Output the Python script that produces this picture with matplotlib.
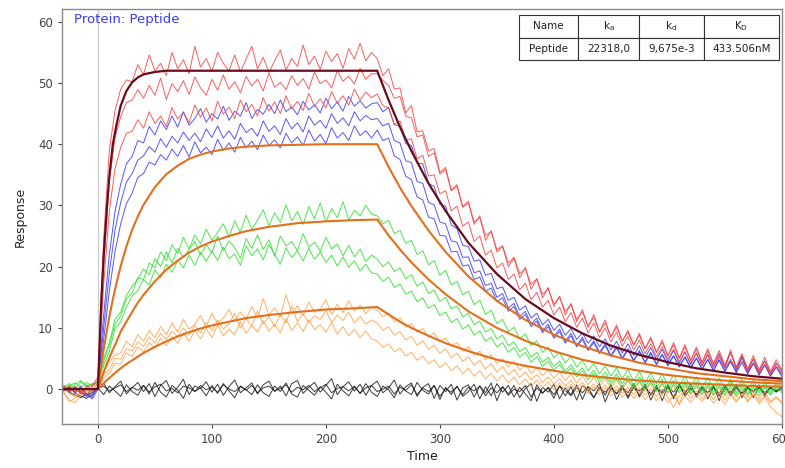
import numpy as np
import matplotlib.pyplot as plt

# sensorgram sampling grid (s)
time_s = list(range(-30, 601, 5))

red_1 = [0.3, -0.4, 0.5, -0.8, 0.2, 0.6,
         2.0, 24.5, 39.0, 45.5, 49.0, 50.5, 50.2, 53.0, 51.4, 54.6, 52.0, 53.2, 51.2, 55.0, 52.3, 53.8, 51.5, 56.0, 52.6, 54.0,
         51.9, 55.0, 53.2, 52.0, 54.6, 51.8, 53.9, 56.0, 52.3, 54.2, 51.7, 53.6, 55.4, 52.1, 54.0, 52.7, 56.2, 53.0, 54.4, 52.2,
         55.2, 53.5, 54.8, 52.4, 55.6, 53.9, 56.5, 53.6, 55.0,
         54.0, 51.2, 52.3, 49.0, 49.2, 45.1, 46.3, 42.0, 42.2, 38.9, 39.3, 35.4, 36.2, 32.5, 33.4, 29.8, 30.7, 26.9, 28.3, 24.3,
         25.9, 22.4, 23.3, 20.0, 21.4, 18.2, 19.9, 16.3, 18.0, 14.9, 16.6, 13.5, 15.2, 12.1, 14.0, 11.0, 13.0, 10.1, 12.2, 9.3,
         11.3, 8.4, 10.5, 7.8, 9.6, 7.2, 9.1, 6.6, 8.5, 6.0, 8.0, 5.4, 7.6, 5.1, 7.3, 4.6, 6.9, 4.4, 6.6, 4.2,
         6.3, 3.9, 6.0, 3.6, 5.8, 3.3, 5.5, 3.1, 5.2, 2.9, 4.8, 3.2]
red_2 = [-0.2, 0.5, -0.6, 0.1, -1.0, 0.4,
         1.5, 20.0, 34.0, 41.0, 44.5, 46.8, 47.2, 48.9, 47.5, 49.6, 48.0, 50.8, 47.3, 49.9, 48.6, 50.4, 48.1, 51.0, 49.2, 48.0,
         50.6, 48.8, 51.3, 49.0, 50.2, 48.4, 51.1, 49.5, 50.6, 48.7, 51.6, 49.3, 50.1, 48.9, 51.2, 49.6, 50.7, 49.0, 51.8, 49.9,
         50.5, 49.2, 52.0, 50.3, 51.1, 49.8, 52.4, 50.6, 51.5,
         51.5, 50.4, 49.6, 47.5, 47.8, 44.6, 44.3, 41.2, 41.5, 38.0, 38.6, 35.1, 35.9, 32.4, 33.1, 29.7, 30.4, 27.3, 28.0, 25.1,
         25.7, 22.8, 23.4, 20.6, 21.5, 18.9, 19.6, 17.1, 18.0, 15.5, 16.4, 13.9, 15.0, 12.7, 13.8, 11.4, 12.6, 10.3, 11.7, 9.4,
         10.8, 8.6, 10.1, 7.9, 9.3, 7.2, 8.8, 6.6, 8.2, 6.0, 7.6, 5.5, 7.2, 5.0, 6.9, 4.8, 6.5, 4.3, 6.2, 4.0,
         5.9, 3.8, 6.4, 3.5, 5.5, 3.2, 5.0, 3.0, 4.6, 2.6, 4.3, 2.8]
red_3 = [0.5, -0.3, 0.2, -0.7, 0.6, -0.2,
         1.0, 17.0, 29.0, 36.0, 39.5, 41.8, 42.1, 44.0, 42.6, 45.3, 43.4, 44.6, 42.9, 46.0, 44.1, 45.2, 43.5, 46.4, 44.4, 45.9,
         43.8, 47.0, 44.9, 46.1, 44.2, 47.2, 45.3, 46.5, 44.6, 47.6, 45.4, 46.9, 45.0, 47.9, 45.8, 47.0, 45.5, 48.3, 46.2, 47.4,
         45.9, 48.6, 46.7, 47.9, 46.4, 49.0, 47.2, 48.5, 47.6,
         48.2, 46.3, 45.9, 43.2, 43.8, 40.6, 40.9, 37.6, 38.2, 34.8, 35.0, 31.9, 32.4, 29.1, 29.9, 26.6, 27.3, 24.1, 25.0, 21.9,
         22.7, 19.8, 20.6, 17.9, 18.8, 16.2, 17.3, 14.6, 15.8, 13.4, 14.5, 12.1, 13.4, 11.0, 12.5, 10.1, 11.6, 9.2, 10.8, 8.4,
         10.0, 7.7, 9.3, 7.0, 8.6, 6.4, 8.0, 5.8, 7.4, 5.3, 6.9, 4.9, 6.5, 4.5, 6.1, 4.2, 5.8, 3.9, 5.5, 3.6,
         5.2, 3.4, 4.9, 3.1, 4.6, 2.9, 4.3, 2.6, 4.0, 2.4, 3.7, 2.5]

blue_1 = [-0.3, 0.4, -0.5, 0.2, -0.9, -1.3,
          0.5, 12.0, 22.0, 29.0, 33.5, 36.8, 38.0, 40.6, 40.2, 42.9, 41.5, 43.8, 42.4, 44.6, 42.8, 45.3, 43.1, 44.2, 45.8, 43.6,
          45.0, 44.1, 46.2, 43.9, 45.4, 44.6, 46.8, 44.2, 45.7, 44.9, 46.5, 45.0, 47.2, 45.3, 46.1, 44.8, 47.0, 45.6, 46.4, 45.1,
          47.5, 45.8, 46.9, 45.4, 47.8, 46.2, 47.1, 45.9, 46.6,
          46.8, 45.3, 46.0, 43.2, 42.9, 40.1, 39.8, 36.9, 36.8, 33.6, 33.1, 30.2, 29.9, 26.8, 26.2, 23.5, 23.3, 20.9, 21.1, 18.6,
          18.9, 16.4, 16.7, 14.5, 15.0, 12.9, 13.6, 11.6, 12.4, 10.5, 11.4, 9.6, 10.6, 8.8, 9.9, 8.1, 9.2, 7.5, 8.7, 6.9,
          8.2, 6.4, 7.8, 5.9, 7.4, 5.5, 7.1, 5.1, 6.8, 4.8, 6.5, 4.5, 6.3, 4.2, 6.1, 4.0, 5.9, 3.8, 5.7, 3.6,
          5.6, 3.5, 6.0, 3.3, 5.2, 3.0, 4.9, 2.8, 4.6, 2.6, 4.2, 2.9]
blue_2 = [0.2, -0.5, 0.3, -0.4, -1.2, -0.6,
          0.3, 10.0, 19.0, 26.0, 30.5, 33.8, 35.2, 37.4, 38.1, 39.6, 38.7, 40.9, 39.5, 41.3, 40.2, 42.0, 40.6, 41.8, 40.4, 42.5,
          41.1, 43.0, 41.0, 42.2, 40.8, 43.4, 41.9, 42.6, 41.3, 43.8, 42.1, 43.0, 41.6, 44.2, 42.5, 43.5, 42.0, 44.6, 43.1, 43.9,
          42.6, 45.0, 43.4, 44.3, 43.0, 45.3, 43.8, 44.7, 44.0,
          44.2, 43.0, 43.4, 40.6, 40.2, 37.3, 37.0, 33.9, 33.6, 30.5, 30.1, 27.3, 27.0, 24.2, 24.0, 21.5, 21.6, 19.0, 19.3, 16.9,
          17.3, 15.0, 15.6, 13.3, 14.0, 11.9, 12.7, 10.6, 11.6, 9.5, 10.6, 8.6, 9.8, 7.8, 9.1, 7.1, 8.5, 6.5, 7.9, 6.0,
          7.4, 5.5, 7.0, 5.1, 6.6, 4.7, 6.3, 4.4, 6.0, 4.1, 5.7, 3.9, 5.5, 3.7, 5.3, 3.5, 5.1, 3.3, 4.9, 3.1,
          4.8, 3.0, 4.6, 2.8, 5.3, 2.6, 4.3, 2.4, 4.0, 2.2, 3.7, 2.4]
blue_3 = [-0.1, 0.3, -0.6, 0.5, -0.8, -1.6,
          0.0, 8.0, 16.0, 22.5, 27.0, 30.3, 32.0, 34.6, 35.2, 37.1, 36.6, 38.3, 37.4, 39.2, 38.0, 39.8, 37.9, 40.4, 38.6, 39.5,
          38.3, 40.8, 39.0, 40.2, 38.7, 41.1, 39.4, 40.5, 39.1, 41.5, 39.8, 40.7, 39.4, 41.8, 40.2, 41.2, 39.8, 42.3, 40.5, 41.6,
          40.1, 42.7, 41.0, 41.9, 40.6, 43.0, 41.4, 42.2, 41.0,
          42.3, 40.6, 41.0, 38.1, 37.5, 34.8, 34.2, 31.4, 30.9, 28.1, 27.8, 25.1, 25.0, 22.4, 22.5, 20.1, 20.3, 17.9, 18.3, 16.0,
          16.5, 14.3, 14.9, 12.7, 13.5, 11.4, 12.2, 10.2, 11.1, 9.2, 10.2, 8.3, 9.4, 7.5, 8.7, 6.9, 8.1, 6.3, 7.6, 5.8,
          7.1, 5.3, 6.7, 4.9, 6.4, 4.6, 6.1, 4.3, 5.8, 4.0, 5.6, 3.8, 5.4, 3.6, 5.2, 3.4, 5.0, 3.2, 4.8, 3.0,
          4.7, 2.9, 4.5, 2.7, 4.3, 2.5, 4.2, 2.3, 3.9, 2.1, 3.6, 2.0]

green_1 = [0.4, 0.9, -0.2, 1.2, 0.6, 0.8,
           1.0, 4.5, 7.2, 10.6, 12.0, 14.8, 15.6, 18.2, 17.9, 20.6, 19.8, 22.4, 21.0, 23.6, 22.1, 24.8, 22.9, 25.2, 23.7, 26.1,
           24.3, 25.6, 27.0, 24.8, 27.5, 25.6, 28.4, 26.1, 27.6, 29.3, 26.7, 28.8, 27.2, 30.1, 27.5, 29.0, 26.9, 29.8, 27.8, 30.4,
           27.3, 29.5, 28.0, 30.6, 27.6, 29.2, 28.3, 30.0, 28.6,
           28.3, 27.0, 27.6, 25.4, 25.9, 23.8, 24.3, 22.0, 22.6, 20.3, 21.0, 18.6, 19.4, 17.0, 17.6, 15.4, 16.0, 13.8, 14.5, 12.2,
           12.9, 10.7, 11.4, 9.4, 10.1, 8.2, 9.0, 7.1, 7.9, 6.0, 6.9, 5.1, 6.0, 4.3, 5.3, 3.6, 4.7, 3.0, 4.2, 2.5,
           3.8, 2.1, 3.5, 1.7, 3.2, 1.3, 2.9, 1.0, 2.7, 0.8, 2.5, 0.6, 2.3, 0.4, 2.1, 0.3, 2.0, 0.2, 1.9, 0.1,
           1.8, 0.0, 1.6, -0.1, 1.5, -0.2, 1.4, -0.3, 1.2, -0.4, 1.0, 0.2]
green_2 = [0.2, 0.6, 1.0, 0.3, 1.1, 0.5,
           1.2, 5.0, 7.6, 11.4, 12.6, 15.3, 16.8, 18.0, 19.6, 18.7, 21.3, 20.0, 22.4, 20.6, 23.0, 21.5, 22.8, 24.1, 21.9, 23.6,
           22.3, 25.0, 22.6, 24.2, 23.1, 21.4, 24.6, 23.0, 25.2, 22.8, 24.4, 21.7, 25.0, 23.4, 24.1, 22.6, 25.4, 23.2, 24.0, 22.5,
           24.8, 22.9, 23.7, 21.8, 23.5, 21.6, 22.9, 20.8, 21.9,
           21.2, 20.0, 20.8, 19.2, 19.8, 18.0, 18.7, 16.8, 17.5, 15.6, 16.2, 14.3, 15.0, 13.1, 13.6, 11.8, 12.4, 10.5, 11.1, 9.3,
           9.9, 8.2, 8.8, 7.1, 7.7, 6.1, 6.8, 5.2, 6.0, 4.4, 5.2, 3.7, 4.6, 3.0, 4.0, 2.5, 3.5, 2.0, 3.1, 1.6,
           2.8, 1.2, 2.5, 0.9, 2.2, 0.6, 2.0, 0.4, 1.8, 0.2, 1.6, 0.0, 1.4, -0.2, 1.3, -0.3, 1.2, -0.4, 1.1, -0.5,
           1.0, -0.5, 1.2, -0.6, 0.9, -0.7, 0.8, -0.6, 0.7, -0.8, 0.6, -0.3]
green_3 = [0.6, 0.1, 0.8, 1.4, 0.4, 0.9,
           0.8, 3.8, 6.2, 9.9, 11.0, 13.4, 15.2, 16.1, 17.9, 17.0, 19.5, 18.2, 20.4, 19.1, 21.0, 19.8, 21.9, 20.2, 22.3, 20.9,
           22.5, 21.0, 23.2, 21.3, 22.1, 20.2, 23.4, 21.8, 22.9, 21.1, 23.6, 22.0, 20.4, 23.1, 21.5, 22.6, 20.9, 23.0, 21.2, 22.4,
           20.7, 21.9, 20.1, 21.6, 19.9, 21.0, 19.3, 20.4, 19.0,
           18.8, 17.6, 18.3, 16.6, 17.2, 15.5, 16.0, 14.3, 14.9, 13.2, 13.8, 12.0, 12.6, 10.9, 11.5, 9.8, 10.5, 8.8, 9.5, 7.8,
           8.5, 6.9, 7.6, 6.0, 6.8, 5.2, 6.0, 4.4, 5.3, 3.7, 4.6, 3.1, 4.0, 2.5, 3.5, 2.0, 3.0, 1.5, 2.6, 1.1,
           2.2, 0.7, 1.9, 0.4, 1.6, 0.1, 1.4, -0.1, 1.2, -0.3, 1.0, -0.5, 0.9, -0.6, 0.8, -0.7, 0.7, -0.8, 0.6, -0.9,
           0.5, -0.9, 0.5, -1.0, 0.4, -1.0, 0.3, -1.1, 0.3, -1.0, 0.2, -0.6]

orange_1 = [-0.5, -1.8, -2.2, -1.0, -0.3, -0.6,
            0.5, 2.8, 4.4, 5.6, 5.9, 7.8, 6.9, 8.9, 7.8, 9.6, 8.4, 10.2, 8.9, 10.8, 9.3, 11.4, 9.8, 10.6, 12.0, 10.1,
            12.4, 10.7, 11.6, 13.0, 11.1, 12.6, 11.4, 13.5, 11.6, 14.8, 12.1, 13.3, 11.8, 15.4, 12.4, 13.6, 12.0, 14.2, 12.6, 13.1,
            14.6, 12.2, 13.9, 12.5, 14.4, 12.8, 13.7, 12.3, 13.4,
            12.9, 11.8, 12.4, 11.0, 11.6, 10.1, 10.7, 9.3, 9.9, 8.5, 9.2, 7.7, 8.4, 7.0, 7.6, 6.2, 6.9, 5.5, 6.2, 4.8,
            5.6, 4.2, 5.0, 3.6, 4.5, 3.1, 4.0, 2.6, 3.5, 2.2, 3.1, 1.8, 2.8, 1.4, 2.5, 1.0, 2.2, 0.7, 1.9, 0.4,
            1.7, 0.2, 1.5, 0.0, 1.3, -0.2, 1.1, -0.4, 0.9, -0.5, 0.8, -0.7, 0.6, -2.6, 0.5, -0.9, 0.4, -1.0, 0.3, -1.1,
            0.2, -1.2, 0.1, -1.3, 0.0, -1.4, -0.2, -1.6, -0.4, -2.0, -1.2, -2.4]
orange_2 = [0.3, -0.8, -1.2, -0.5, 0.1, -0.4,
            0.3, 2.3, 3.2, 5.0, 4.9, 6.6, 6.2, 7.7, 7.0, 8.5, 7.6, 9.1, 8.1, 9.4, 8.6, 10.0, 8.8, 10.4, 9.2, 10.9,
            9.5, 11.3, 9.8, 10.7, 12.4, 10.0, 11.5, 10.3, 12.8, 10.6, 11.9, 10.2, 12.2, 10.8, 13.6, 11.0, 12.3, 10.9, 12.0, 11.4,
            12.8, 10.9, 12.1, 11.2, 12.6, 10.8, 11.9, 10.6, 11.3,
            10.8, 9.6, 10.2, 8.8, 9.4, 8.0, 8.6, 7.2, 7.9, 6.5, 7.2, 5.8, 6.6, 5.1, 5.9, 4.5, 5.3, 3.9, 4.7, 3.3,
            4.2, 2.8, 3.7, 2.3, 3.2, 1.9, 2.8, 1.5, 2.4, 1.1, 2.0, 0.8, 1.7, 0.5, 1.4, 0.2, 1.1, -0.1, 0.9, -0.3,
            0.7, -0.5, 0.5, -0.7, 0.3, -0.9, 0.2, -1.0, 0.1, -1.2, 0.0, -1.3, -3.0, -1.1, -0.2, -1.5, -0.3, -1.6, -0.4, -1.7,
            -0.5, -1.8, -0.6, -1.9, -0.7, -2.1, -0.9, -2.4, -1.3, -2.9, -3.8, -4.5]
orange_3 = [-0.6, -2.0, -1.5, -0.4, -0.9, -0.2,
            0.0, 1.8, 2.6, 4.2, 4.1, 5.9, 5.3, 6.9, 6.1, 7.6, 6.7, 8.3, 7.1, 8.6, 7.5, 9.2, 7.8, 9.6, 8.2, 9.9,
            8.4, 10.5, 8.7, 9.8, 8.9, 11.0, 9.1, 10.4, 9.3, 11.2, 9.5, 10.6, 9.2, 11.5, 9.6, 10.8, 9.4, 11.3, 9.7, 10.5,
            9.3, 10.9, 9.0, 10.2, 8.7, 9.8, 8.4, 9.5, 8.2,
            7.9, 6.8, 7.4, 6.1, 6.7, 5.4, 6.0, 4.7, 5.4, 4.1, 4.8, 3.5, 4.3, 3.0, 3.8, 2.5, 3.4, 2.1, 3.0, 1.7,
            2.6, 1.3, 2.3, 1.0, 2.0, 0.7, 1.7, 0.4, 1.5, 0.2, 1.2, -0.1, 1.0, -0.3, 0.8, -0.5, 0.6, -0.7, 0.4, -0.9,
            0.2, -1.1, 0.0, -1.3, -0.2, -1.5, -0.4, -1.7, -0.6, -1.9, -0.8, -2.2, -1.0, -2.4, -1.1, -2.2, -1.0, -2.0, -0.9, -2.3,
            -1.2, -2.5, -1.0, -2.1, -0.8, -1.9, -0.7, -2.0, -1.1, -2.2, -1.5, -2.0]

black_1 = [0.2, -0.5, -1.0, -1.4, -0.8, -0.3,
           0.0, 1.0, -0.6, 0.4, 1.3, -0.8, 0.2, 1.1, -0.4, 0.9, -1.2, 0.6, 1.4, -0.7, 0.3, 1.6, -0.9, 0.5, 0.1, 1.2,
           -0.5, 0.8, -1.0, 0.4, 1.5, -0.6, 0.2, 1.0, -0.8, 0.7, 1.3, -0.4, 0.5, -1.1, 0.9, 1.4, -0.7, 0.3, 1.1, -0.5,
           0.6, 1.7, -0.9, 0.4, 1.2, -0.3, 0.8, -1.0, 0.6, 1.3, -0.6, 0.2, 1.5, -0.8, 0.4, 1.0, -1.2, 0.3, 0.9, -1.5,
           0.6, -0.4, 0.8, -1.8, 0.2, 0.7, -1.3, 0.5, -0.6, 1.0, -1.9, 0.4, -0.8, 0.6, -1.4, 0.1, 0.9, -2.0, 0.3, -0.5,
           0.8, -1.6, 0.2, -0.9, 0.7, -1.7, 0.4, -0.3, 0.9, -2.1, 0.1, -0.7, 0.6, -1.5, 0.3, -1.0, 0.8, -1.8, 0.2, -0.4,
           0.7, -1.6, 0.5, -0.8, 0.9, -1.3, 0.1, -0.6, 0.6, -1.9, 0.4, -0.9, 0.8, -1.4, 0.2, -0.5, 0.7, -1.2, 0.3, -0.4,
           0.5]
black_2 = [-0.3, 0.4, -0.7, -1.1, -1.5, -0.9,
           0.2, -0.9, 0.5, -0.3, -1.2, 0.7, -0.4, -1.0, 0.6, -0.8, 1.1, -0.5, -1.3, 0.6, -0.2, -1.5, 0.8, -0.4, 0.2, -1.1,
           0.6, -0.7, 0.9, -0.3, -1.4, 0.5, -0.1, -0.9, 0.7, -0.6, -1.2, 0.5, -0.4, 1.0, -0.8, -1.3, 0.6, -0.2, -1.0, 0.4,
           -0.5, -1.6, 0.8, -0.3, -1.1, 0.4, -0.7, 0.9, -0.5, -1.2, 0.5, -0.1, -1.4, 0.7, -0.3, -0.9, 1.1, -0.2, -0.8, 0.6,
           -1.7, 0.3, -0.9, 0.5, -1.2, -0.4, 0.8, -1.6, 0.4, -1.1, 0.9, -0.5, 0.6, -1.3, 0.3, -0.8, -1.9, 0.7, -0.6, 0.2,
           -1.5, 0.5, -1.1, 0.4, -1.8, 0.6, -0.2, -1.4, 0.5, -1.0, 0.7, -1.7, 0.2, -0.6, 0.9, -1.3, 0.3, -0.8, 0.6, -1.9,
           0.4, -0.5, 0.8, -1.2, 0.1, -0.9, 0.5, -1.6, 0.3, -0.7, 0.7, -1.1, 0.2, -0.6, 0.5, -1.4, 0.3, -0.8, 0.4, -0.5,
           0.2]
black_3 = [0.0, -0.2, 0.3, -0.6, -1.0, -0.5,
           0.1, 0.5, -0.3, 0.2, 0.7, -0.4, 0.3, -0.2, 0.6, -0.5, 0.4, 0.8, -0.3, 0.1, -0.6, 0.5, 0.2, -0.4, 0.6, -0.1,
           0.3, -0.5, 0.7, 0.0, -0.4, 0.4, -0.2, 0.6, -0.6, 0.2, 0.5, -0.3, 0.1, 0.7, -0.5, 0.3, -0.1, 0.6, -0.4, 0.2,
           0.8, -0.6, 0.1, 0.4, -0.3, 0.5, -0.7, 0.2, 0.6, -0.4, 0.0, 0.5, -0.8, 0.3, -0.2, 0.7, -0.9, 0.2, -0.4, 0.6,
           -1.2, 0.1, -0.5, 0.4, -0.9, 0.3, -0.3, 0.5, -1.1, 0.2, -0.6, 0.4, -1.0, 0.0, -0.4, 0.6, -1.3, 0.2, -0.7, 0.3,
           -0.9, 0.5, -0.2, -1.1, 0.3, -0.6, 0.4, -1.4, 0.1, -0.5, 0.5, -0.8, 0.2, -1.2, 0.4, -0.3, 0.6, -1.0, 0.1, -0.7,
           0.3, -1.3, 0.5, -0.4, 0.2, -0.9, 0.4, -0.6, 0.3, -1.1, 0.1, -0.5, 0.4, -0.8, 0.2, -0.3, 0.3, -0.6, 0.1, -0.2,
           0.0]

# fitted curves (1:1 model)
fit_t = [-30, 0, 3, 5, 8, 10, 13, 16, 20, 25, 30, 35, 40, 50, 60, 70, 80, 90, 100, 115, 130, 150, 175, 200, 225, 245,
         255, 265, 275, 290, 305, 325, 350, 375, 400, 425, 450, 475, 500, 525, 550, 575, 600]
fit_top = [0, 0, 14.6, 21.6, 30.0, 34.7, 39.9, 42.9, 46.3, 48.7, 50.1, 50.9, 51.4, 51.8, 52.0, 52.0, 52.0, 52.0, 52.0,
           52.0, 52.0, 52.0, 52.0, 52.0, 52.0, 52.0,
           47.2, 42.8, 38.9, 33.6, 29.1, 23.9, 18.8, 14.7, 11.6, 9.1, 7.1, 5.6, 4.4, 3.4, 2.7, 2.1, 1.7]
fit_40 = [0, 0, 4.0, 6.4, 9.7, 11.8, 14.6, 17.1, 20.1, 23.3, 26.0, 28.2, 30.1, 33.0, 35.1, 36.5, 37.6, 38.3, 38.8,
          39.3, 39.6, 39.8, 39.9, 40.0, 40.0, 40.0,
          36.3, 32.9, 29.9, 25.9, 22.4, 18.4, 14.4, 11.3, 8.9, 7.0, 5.5, 4.3, 3.4, 2.6, 2.1, 1.6, 1.3]
fit_28 = [0, 0, 1.6, 2.7, 4.2, 5.1, 6.4, 7.6, 9.4, 11.0, 12.6, 14.1, 15.4, 17.6, 19.5, 21.0, 22.3, 23.3, 24.1,
          25.0, 25.8, 26.5, 27.1, 27.4, 27.6, 27.7,
          25.1, 22.8, 20.7, 17.9, 15.5, 12.7, 10.0, 7.9, 6.2, 4.8, 3.8, 3.0, 2.3, 1.8, 1.4, 1.1, 0.9]
fit_13 = [0, 0, 0.6, 0.9, 1.5, 1.8, 2.3, 2.8, 3.4, 4.1, 4.7, 5.3, 5.9, 6.9, 7.8, 8.6, 9.3, 9.9, 10.4,
          11.0, 11.6, 12.1, 12.6, 13.0, 13.2, 13.4,
          12.2, 11.0, 10.0, 8.7, 7.5, 6.2, 4.8, 3.8, 3.0, 2.3, 1.8, 1.4, 1.1, 0.9, 0.7, 0.5, 0.4]

table_cols = ['Name', '$\\mathregular{k_a}$', '$\\mathregular{k_d}$', '$\\mathregular{K_D}$']
table_row = ['Peptide', '22318,0', '9,675e-3', '433.506nM']

fig = plt.figure(figsize=(7.85, 4.68), dpi=100)
ax = fig.add_axes([0.079, 0.094, 0.917, 0.887])

ax.axvline(0, color='#c8c8c8', lw=0.8, zorder=0)

groups = [
    ([black_1, black_2, black_3], '#1a1a1a'),
    ([orange_1, orange_2, orange_3], '#ffa24a'),
    ([green_1, green_2, green_3], '#2fe02f'),
    ([blue_1, blue_2, blue_3], '#3a3af0'),
    ([red_1, red_2, red_3], '#f24444'),
]
for traces, col in groups:
    for tr in traces:
        assert len(tr) == len(time_s), len(tr)
        ax.plot(time_s, tr, color=col, lw=0.7, alpha=0.85)

for fit in [fit_13, fit_28, fit_40]:
    ax.plot(fit_t, fit, color='#e2701c', lw=1.5)
ax.plot(fit_t, fit_top, color='#6a0c1c', lw=1.6)

ax.set_xlim(-31.5, 600)
ax.set_ylim(-5.7, 62.1)
ax.set_xticks([0, 100, 200, 300, 400, 500, 600])
ax.set_yticks([0, 10, 20, 30, 40, 50, 60])
ax.tick_params(labelsize=8.5, colors='#444444', length=3, width=0.8)
for s in ax.spines.values():
    s.set_color('#8a8a8a')
    s.set_linewidth(1.0)

ax.set_xlabel('Time', fontsize=9, color='#222222', labelpad=3)
ax.set_ylabel('Response', fontsize=9, color='#222222', labelpad=8)

ax.text(0.016, 0.99, 'Protein: Peptide', transform=ax.transAxes, color='#3a3af0',
        fontsize=9.5, va='top', ha='left')

tbl = ax.table(cellText=[table_row], colLabels=table_cols, cellLoc='center',
               colWidths=[0.228, 0.232, 0.251, 0.289],
               bbox=[0.635, 0.877, 0.361, 0.108])
tbl.auto_set_font_size(False)
tbl.set_fontsize(7.5)
for cell in tbl.get_celld().values():
    cell.set_edgecolor('#333333')
    cell.set_linewidth(0.8)
    cell.set_facecolor('white')
    cell.get_text().set_color('#222222')

fig.savefig('out.png', dpi=100)
